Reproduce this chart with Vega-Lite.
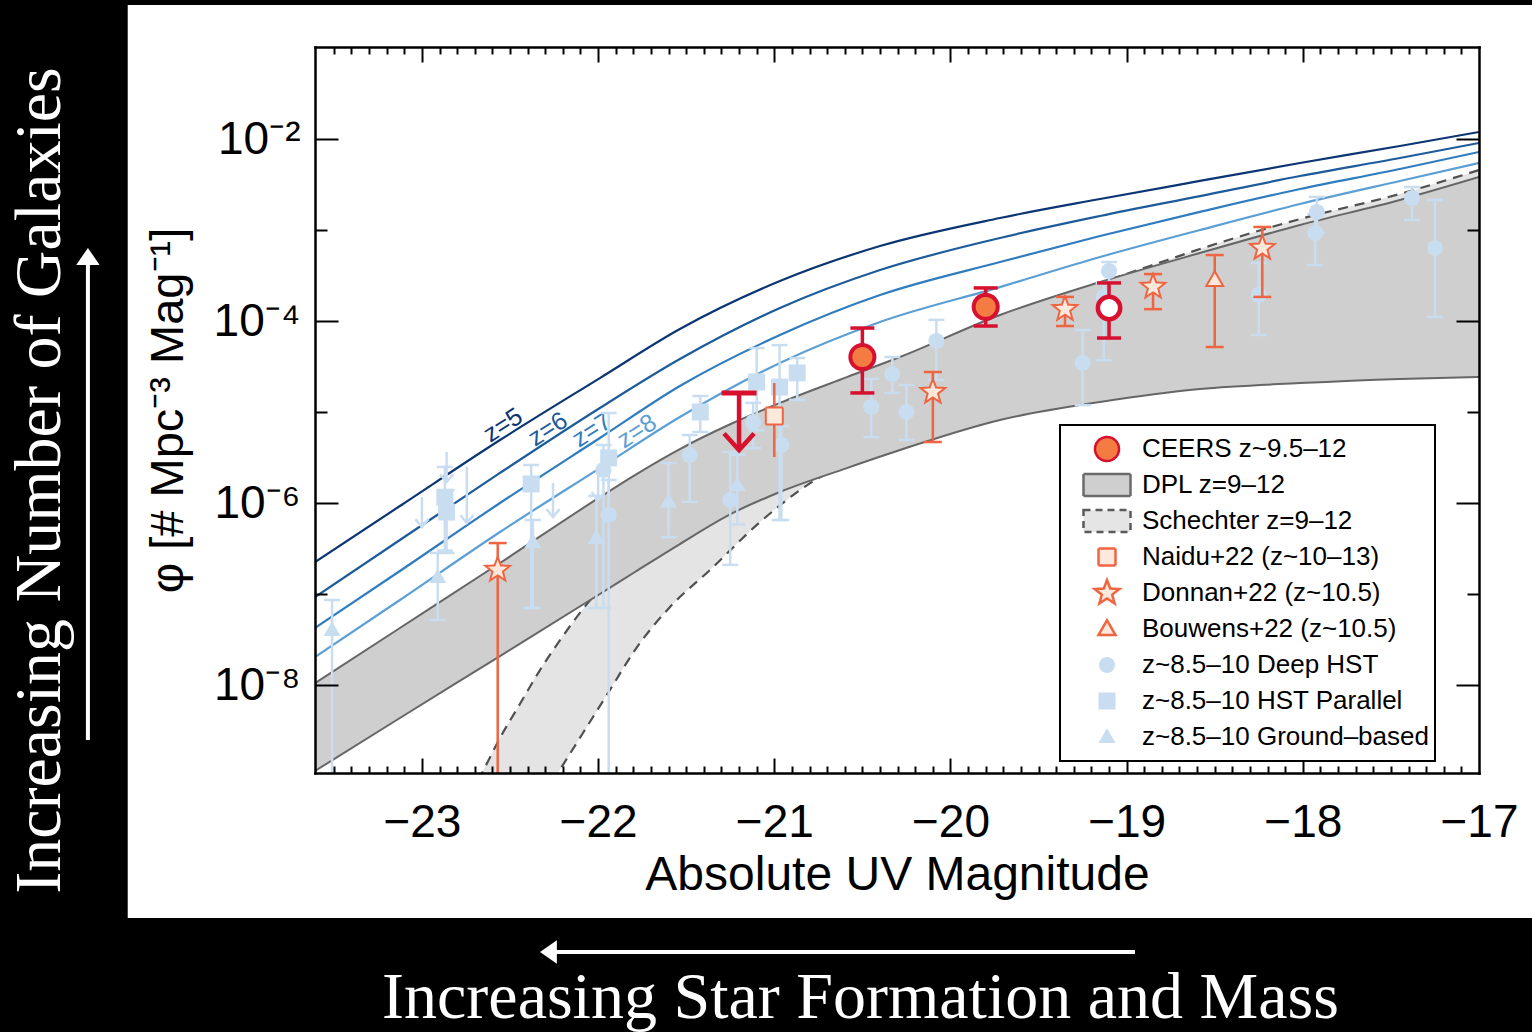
{
"$schema": "https://vega.github.io/schema/vega-lite/v6.json",
"width": 1164, "height": 726,
"autosize": {"type": "none"},
"padding": {"left": 315, "top": 47, "right": 53, "bottom": 259},
"background": "black",
"config": {"view": {"stroke": null}, "legend": {"strokeWidth": 2}},
"resolve": {"axis": {"x": "independent", "y": "independent"}},
"datasets": {
"curves": [
{"curve":"z=5","M":-23.607,"phi":2.247e-7},{"curve":"z=5","M":-23.125,"phi":9.27e-7},{"curve":"z=5","M":-22.557,"phi":4.92e-6},{"curve":"z=5","M":-21.99,"phi":2.36e-5},{"curve":"z=5","M":-21.536,"phi":8.17e-5},{"curve":"z=5","M":-20.968,"phi":2.75e-4},{"curve":"z=5","M":-20.4,"phi":6.67e-4},{"curve":"z=5","M":-19.719,"phi":1.355e-3},{"curve":"z=5","M":-19.151,"phi":2.19e-3},{"curve":"z=5","M":-18.584,"phi":3.46e-3},{"curve":"z=5","M":-18.016,"phi":5.45e-3},{"curve":"z=5","M":-17.449,"phi":8.38e-3},{"curve":"z=5","M":-17.0,"phi":1.194e-2},
{"curve":"z=6","M":-23.607,"phi":9.27e-8},{"curve":"z=6","M":-23.125,"phi":3.92e-7},{"curve":"z=6","M":-22.557,"phi":2.14e-6},{"curve":"z=6","M":-21.99,"phi":1.107e-5},{"curve":"z=6","M":-21.536,"phi":3.82e-5},{"curve":"z=6","M":-20.968,"phi":1.389e-4},{"curve":"z=6","M":-20.4,"phi":3.63e-4},{"curve":"z=6","M":-19.719,"phi":8.17e-4},{"curve":"z=6","M":-19.151,"phi":1.425e-3},{"curve":"z=6","M":-18.584,"phi":2.36e-3},{"curve":"z=6","M":-18.016,"phi":3.92e-3},{"curve":"z=6","M":-17.449,"phi":6.18e-3},{"curve":"z=6","M":-17.0,"phi":9.04e-3},
{"curve":"z=7","M":-23.607,"phi":4.23e-8},{"curve":"z=7","M":-23.125,"phi":1.79e-7},{"curve":"z=7","M":-22.557,"phi":1.0e-6},{"curve":"z=7","M":-21.99,"phi":5.18e-6},{"curve":"z=7","M":-21.536,"phi":1.93e-5},{"curve":"z=7","M":-20.968,"phi":7.02e-5},{"curve":"z=7","M":-20.4,"phi":1.93e-4},{"curve":"z=7","M":-19.719,"phi":4.45e-4},{"curve":"z=7","M":-19.151,"phi":8.59e-4},{"curve":"z=7","M":-18.584,"phi":1.58e-3},{"curve":"z=7","M":-18.016,"phi":2.82e-3},{"curve":"z=7","M":-17.449,"phi":4.68e-3},{"curve":"z=7","M":-17.0,"phi":7.2e-3},
{"curve":"z=8","M":-23.607,"phi":2.03e-8},{"curve":"z=8","M":-23.125,"phi":8.59e-8},{"curve":"z=8","M":-22.557,"phi":4.8e-7},{"curve":"z=8","M":-21.99,"phi":2.42e-6},{"curve":"z=8","M":-21.536,"phi":8.81e-6},{"curve":"z=8","M":-20.968,"phi":3.46e-5},{"curve":"z=8","M":-20.4,"phi":9.75e-5},{"curve":"z=8","M":-19.719,"phi":2.36e-4},{"curve":"z=8","M":-19.151,"phi":5.05e-4},{"curve":"z=8","M":-18.584,"phi":1.0e-3},{"curve":"z=8","M":-18.016,"phi":1.93e-3},{"curve":"z=8","M":-17.449,"phi":3.46e-3},{"curve":"z=8","M":-17.0,"phi":5.45e-3}
],
"zlab": [
{"curve":"z=5","M":-22.54,"phi":7.19e-6},{"curve":"z=6","M":-22.285,"phi":6.5e-6},{"curve":"z=7","M":-22.035,"phi":6.34e-6},{"curve":"z=8","M":-21.78,"phi":6.18e-6}
],
"dpl": [
{"M":-23.607,"lo":1.135e-9,"hi":1.05e-8},{"M":-23.125,"lo":4.34e-9,"hi":4.23e-8},{"M":-22.557,"lo":2.08e-8,"hi":2.19e-7},{"M":-21.99,"lo":1.0e-7,"hi":1.16e-6},{"M":-21.791,"lo":1.745e-7,"hi":2.03e-6},{"M":-21.536,"lo":3.54e-7,"hi":3.92e-6},{"M":-21.235,"lo":7.77e-7,"hi":7.57e-6},{"M":-20.968,"lo":1.32e-6,"hi":1.26e-5},{"M":-20.588,"lo":2.42e-6,"hi":2.42e-5},{"M":-20.287,"lo":3.82e-6,"hi":4.02e-5},{"M":-19.719,"lo":8.17e-6,"hi":1.164e-4},{"M":-19.151,"lo":1.29e-5,"hi":2.68e-4},{"M":-18.584,"lo":1.79e-5,"hi":5.59e-4},{"M":-18.016,"lo":2.08e-5,"hi":1.135e-3},{"M":-17.449,"lo":2.31e-5,"hi":2.14e-3},{"M":-17.0,"lo":2.42e-5,"hi":3.82e-3}
],
"sch": [
{"M":-22.728,"lo":2.03e-11,"hi":6.18e-10},{"M":-22.659,"lo":3.82e-11,"hi":1.08e-9},{"M":-22.557,"lo":9.27e-11,"hi":2.62e-9},{"M":-22.444,"lo":2.247e-10,"hi":6.18e-9},{"M":-22.33,"lo":5.18e-10,"hi":1.46e-8},{"M":-22.228,"lo":1.08e-9,"hi":2.89e-8},{"M":-22.086,"lo":2.97e-9,"hi":6.84e-8},{"M":-21.933,"lo":8.81e-9,"hi":1.5e-7},{"M":-21.791,"lo":2.42e-8,"hi":2.82e-7},{"M":-21.592,"lo":7.2e-8,"hi":7.38e-7},{"M":-21.365,"lo":1.835e-7,"hi":1.79e-6},{"M":-21.081,"lo":6.18e-7,"hi":4.34e-6},{"M":-20.854,"lo":1.389e-6,"hi":8.59e-6},{"M":-20.287,"lo":4.92e-6,"hi":3.54e-5},{"M":-19.719,"lo":1.355e-5,"hi":1.079e-4},{"M":-19.151,"lo":3.285e-5,"hi":2.62e-4},{"M":-18.868,"lo":4.8e-5,"hi":4.02e-4},{"M":-18.584,"lo":7.02e-5,"hi":6.18e-4},{"M":-18.016,"lo":1.499e-4,"hi":1.32e-3},{"M":-17.449,"lo":2.968e-4,"hi":2.49e-3},{"M":-17.0,"lo":5.31e-4,"hi":4.56e-3}
],
"pts": [
{"series":"z~8.5–10 Deep HST","M":-21.48,"phi":3.36e-6,"lo":1.03e-6,"hi":5.58e-6},
{"series":"z~8.5–10 Deep HST","M":-21.25,"phi":1.08e-6,"lo":2.09e-7,"hi":3.63e-6},
{"series":"z~8.5–10 Deep HST","M":-21.12,"phi":7.76e-6,"lo":4.02e-6,"hi":1.26e-5},
{"series":"z~8.5–10 Deep HST","M":-20.96,"phi":4.34e-6,"lo":6.5e-7,"hi":7.0e-6},
{"series":"z~8.5–10 Deep HST","M":-20.45,"phi":1.14e-5,"lo":5.31e-6,"hi":2.31e-5},
{"series":"z~8.5–10 Deep HST","M":-20.33,"phi":2.62e-5,"lo":1.62e-5,"hi":4.02e-5},
{"series":"z~8.5–10 Deep HST","M":-20.25,"phi":1.0e-5,"lo":4.92e-6,"hi":1.98e-5},
{"series":"z~8.5–10 Deep HST","M":-20.08,"phi":6.03e-5,"lo":2.25e-5,"hi":1.03e-4},
{"series":"z~8.5–10 Deep HST","M":-19.25,"phi":3.45e-5,"lo":1.19e-5,"hi":7.96e-5},
{"series":"z~8.5–10 Deep HST","M":-19.10,"phi":3.54e-4,"lo":2.62e-4,"hi":4.45e-4},
{"series":"z~8.5–10 Deep HST","M":-19.13,"phi":1.84e-4,"lo":3.72e-5,"hi":2.62e-4},
{"series":"z~8.5–10 Deep HST","M":-18.25,"phi":1.93e-4,"lo":7.02e-5,"hi":4.34e-4},
{"series":"z~8.5–10 Deep HST","M":-17.92,"phi":1.58e-3,"lo":9.3e-4,"hi":2.31e-3},
{"series":"z~8.5–10 Deep HST","M":-17.93,"phi":9.27e-4,"lo":4.12e-4,"hi":1.5e-3},
{"series":"z~8.5–10 Deep HST","M":-17.38,"phi":2.25e-3,"lo":1.29e-3,"hi":2.97e-3},
{"series":"z~8.5–10 Deep HST","M":-17.25,"phi":6.34e-4,"lo":1.11e-4,"hi":2.14e-3},
{"series":"z~8.5–10 Deep HST","M":-21.97,"phi":2.31e-6,"lo":7.02e-8,"hi":4.34e-6},
{"series":"z~8.5–10 Deep HST","M":-21.94,"phi":7.38e-7,"lo":1e-10,"hi":1.79e-6},
{"series":"z~8.5–10 HST Parallel","M":-21.42,"phi":1.0e-5,"lo":6.03e-6,"hi":1.5e-5},
{"series":"z~8.5–10 HST Parallel","M":-21.10,"phi":2.14e-5,"lo":6.3e-6,"hi":5.05e-5},
{"series":"z~8.5–10 HST Parallel","M":-20.97,"phi":1.88e-5,"lo":6.5e-7,"hi":5.44e-5},
{"series":"z~8.5–10 HST Parallel","M":-20.87,"phi":2.69e-5,"lo":1.36e-5,"hi":3.92e-5},
{"series":"z~8.5–10 HST Parallel","M":-22.87,"phi":1.16e-6,"lo":3.0e-7,"hi":2.49e-6},
{"series":"z~8.5–10 HST Parallel","M":-22.86,"phi":7.96e-7,"lo":2.83e-7,"hi":1.38e-6},
{"series":"z~8.5–10 HST Parallel","M":-22.38,"phi":1.62e-6,"lo":7.02e-8,"hi":2.62e-6},
{"series":"z~8.5–10 HST Parallel","M":-21.94,"phi":3.13e-6,"lo":7.4e-7,"hi":9.75e-6},
{"series":"z~8.5–10 Ground–based","M":-23.51,"phi":4.02e-8,"lo":1e-10,"hi":8.59e-8},
{"series":"z~8.5–10 Ground–based","M":-22.91,"phi":1.54e-7,"lo":5.18e-8,"hi":2.83e-7},
{"series":"z~8.5–10 Ground–based","M":-22.37,"phi":3.72e-7,"lo":7.02e-8,"hi":6.5e-7},
{"series":"z~8.5–10 Ground–based","M":-22.01,"phi":4.12e-7,"lo":7.02e-8,"hi":1.2e-6},
{"series":"z~8.5–10 Ground–based","M":-21.60,"phi":1.03e-6,"lo":4.22e-7,"hi":2.75e-6},
{"series":"z~8.5–10 Ground–based","M":-21.21,"phi":1.58e-6,"lo":5.8e-7,"hi":3.4e-6},
{"series":"Naidu+22 (z~10–13)","M":-21.0,"phi":9.04e-6,"lo":3.2e-6,"hi":2.08e-5},
{"series":"Donnan+22 (z~10.5)","M":-22.57,"phi":1.84e-7,"lo":1e-10,"hi":3.63e-7},
{"series":"Donnan+22 (z~10.5)","M":-20.1,"phi":1.66e-5,"lo":4.68e-6,"hi":2.75e-5},
{"series":"Donnan+22 (z~10.5)","M":-19.35,"phi":1.35e-4,"lo":8.81e-5,"hi":1.84e-4},
{"series":"Donnan+22 (z~10.5)","M":-18.85,"phi":2.37e-4,"lo":1.35e-4,"hi":3.28e-4},
{"series":"Donnan+22 (z~10.5)","M":-18.23,"phi":6.34e-4,"lo":1.84e-4,"hi":1.08e-3},
{"series":"Bouwens+22 (z~10.5)","M":-18.5,"phi":2.82e-4,"lo":5.18e-5,"hi":5.31e-4},
{"series":"CEERS z~9.5–12","M":-20.5,"phi":4.02e-5,"lo":1.62e-5,"hi":8.37e-5},
{"series":"CEERS z~9.5–12","M":-19.8,"phi":1.43e-4,"lo":8.81e-5,"hi":2.31e-4},
{"series":"CEERS z~9.5–12","M":-19.1,"phi":1.39e-4,"lo":6.5e-5,"hi":2.62e-4,"tentative":true}
],
"ul": [
{"series":"CEERS z~9.5–12","M":-21.2,"top":1.62e-5,"tip":3.82e-6},
{"series":"z~8.5–10 Deep HST","M":-23.0,"top":1.16e-6,"tip":5.45e-7},
{"series":"z~8.5–10 Deep HST","M":-22.86,"top":3.63e-6,"tip":1.7e-6},
{"series":"z~8.5–10 Deep HST","M":-22.745,"top":2.49e-6,"tip":6.03e-7},
{"series":"z~8.5–10 Deep HST","M":-22.256,"top":1.66e-6,"tip":7.02e-7},
{"series":"z~8.5–10 Deep HST","M":-22.0,"top":2.42e-6,"tip":1.08e-6}
]
},
"layer": [
{"data": {"values": [{}]}, "mark": {"type": "rect", "color": "white"},
 "encoding": {"x": {"datum": -24.67, "axis": null}, "x2": {"datum": -16.3}, "y": {"datum": 0.297, "axis": null}, "y2": {"datum": 2.75e-11}}},
{"data": {"name": "sch"}, "mark": {"type": "area", "color": "#e4e4e4", "opacity": 1, "clip": true, "interpolate": "monotone"},
 "encoding": {"x": {"field": "M", "type": "quantitative", "axis": null}, "y": {"field": "hi", "type": "quantitative", "axis": null}, "y2": {"field": "lo"}}},
{"data": {"name": "sch"}, "mark": {"type": "line", "color": "#505050", "strokeWidth": 2.2, "strokeDash": [10, 7], "clip": true, "interpolate": "monotone"},
 "encoding": {"x": {"field": "M", "type": "quantitative", "axis": null}, "y": {"field": "hi", "type": "quantitative", "axis": null}}},
{"data": {"name": "sch"}, "mark": {"type": "line", "color": "#505050", "strokeWidth": 2.2, "strokeDash": [10, 7], "clip": true, "interpolate": "monotone"},
 "encoding": {"x": {"field": "M", "type": "quantitative", "axis": null}, "y": {"field": "lo", "type": "quantitative", "axis": null}}},
{"data": {"name": "dpl"}, "mark": {"type": "area", "color": "#cfcfcf", "opacity": 1, "clip": true, "interpolate": "monotone"},
 "encoding": {
  "x": {"field": "M", "type": "quantitative", "scale": {"domain": [-23.607, -17.0], "nice": false, "zero": false},
   "axis": {"orient": "bottom", "values": [-23, -22, -21, -20, -19, -18, -17], "labelExpr": "'−' + abs(datum.value)", "ticks": false, "domain": false, "grid": false, "labelFont": "Liberation Sans", "labelFontSize": 46, "labelColor": "black", "labelBaseline": "alphabetic", "labelPadding": 63, "labelFlush": false, "labelOverlap": false, "labelBound": false, "title": "Absolute UV Magnitude", "titleFont": "Liberation Sans", "titleFontSize": 48, "titleFontWeight": "normal", "titleColor": "black", "titleX": 582, "titleY": 116, "titleBaseline": "alphabetic", "titleAlign": "center", "zindex": 1}},
  "y": {"field": "hi", "type": "quantitative", "scale": {"type": "log", "domain": [1.079e-9, 0.1026], "nice": false},
   "axis": {"orient": "left", "values": [1e-8, 1e-6, 1e-4, 1e-2], "labelExpr": "datum.value > 0.005 ? '10⁻²' : datum.value > 5e-5 ? '10⁻⁴' : datum.value > 5e-7 ? '10⁻⁶' : '10⁻⁸'", "ticks": false, "domain": false, "grid": false, "labelFont": "Liberation Sans", "labelFontSize": 46, "labelColor": "black", "labelPadding": 15, "labelBaseline": "middle", "labelFlush": false, "labelOverlap": false, "title": "φ [# Mpc⁻³ Mag⁻¹]", "titleFont": "Liberation Sans", "titleFontSize": 47, "titleFontWeight": "normal", "titleColor": "black", "titleX": -133, "titleY": 363, "titleAngle": 270, "titleBaseline": "alphabetic", "titleAlign": "center", "zindex": 1}},
  "y2": {"field": "lo"}}},
{"data": {"name": "dpl"}, "mark": {"type": "line", "color": "#666666", "strokeWidth": 2, "clip": true, "interpolate": "monotone"},
 "encoding": {
  "x": {"field": "M", "type": "quantitative",
   "axis": {"orient": "bottom", "values": [-23.5,-23.4,-23.3,-23.2,-23.1,-23,-22.9,-22.8,-22.7,-22.6,-22.5,-22.4,-22.3,-22.2,-22.1,-22,-21.9,-21.8,-21.7,-21.6,-21.5,-21.4,-21.3,-21.2,-21.1,-21,-20.9,-20.8,-20.7,-20.6,-20.5,-20.4,-20.3,-20.2,-20.1,-20,-19.9,-19.8,-19.7,-19.6,-19.5,-19.4,-19.3,-19.2,-19.1,-19,-18.9,-18.8,-18.7,-18.6,-18.5,-18.4,-18.3,-18.2,-18.1,-18,-17.9,-17.8,-17.7,-17.6,-17.5,-17.4,-17.3,-17.2,-17.1], "labels": false, "grid": false, "domain": true, "domainColor": "black", "domainWidth": 2.5, "domainCap": "square", "tickColor": "black", "tickWidth": 2, "tickSize": {"condition": {"test": "abs(datum.value - round(datum.value)) < 0.01", "value": -15}, "value": -7}, "title": "Increasing Star Formation and Mass", "titleFont": "Liberation Serif", "titleFontSize": 66, "titleFontWeight": "normal", "titleColor": "white", "titleX": 545, "titleY": 244, "titleBaseline": "alphabetic", "titleAlign": "center", "zindex": 1}},
  "y": {"field": "hi", "type": "quantitative",
   "axis": {"orient": "left", "values": [1e-8, 1e-7, 1e-6, 1e-5, 1e-4, 1e-3, 1e-2], "labels": false, "grid": false, "domain": true, "domainColor": "black", "domainWidth": 2.5, "domainCap": "square", "tickColor": "black", "tickWidth": 2, "tickSize": {"condition": {"test": "round(log(datum.value)/LN10) % 2 == 0", "value": -23}, "value": -12}, "title": "Increasing Number of Galaxies", "titleFont": "Liberation Serif", "titleFontSize": 66, "titleFontWeight": "normal", "titleColor": "white", "titleX": -256, "titleY": 433, "titleAngle": 270, "titleBaseline": "alphabetic", "titleAlign": "center", "zindex": 1}}}},
{"data": {"name": "dpl"}, "mark": {"type": "line", "color": "#666666", "strokeWidth": 2, "clip": true, "interpolate": "monotone"},
 "encoding": {
  "x": {"field": "M", "type": "quantitative",
   "axis": {"orient": "top", "values": [-23.5,-23.4,-23.3,-23.2,-23.1,-23,-22.9,-22.8,-22.7,-22.6,-22.5,-22.4,-22.3,-22.2,-22.1,-22,-21.9,-21.8,-21.7,-21.6,-21.5,-21.4,-21.3,-21.2,-21.1,-21,-20.9,-20.8,-20.7,-20.6,-20.5,-20.4,-20.3,-20.2,-20.1,-20,-19.9,-19.8,-19.7,-19.6,-19.5,-19.4,-19.3,-19.2,-19.1,-19,-18.9,-18.8,-18.7,-18.6,-18.5,-18.4,-18.3,-18.2,-18.1,-18,-17.9,-17.8,-17.7,-17.6,-17.5,-17.4,-17.3,-17.2,-17.1], "labels": false, "grid": false, "domain": true, "domainColor": "black", "domainWidth": 2.5, "domainCap": "square", "tickColor": "black", "tickWidth": 2, "tickSize": {"condition": {"test": "abs(datum.value - round(datum.value)) < 0.01", "value": -15}, "value": -7}, "title": null, "zindex": 1}},
  "y": {"field": "lo", "type": "quantitative",
   "axis": {"orient": "right", "values": [1e-8, 1e-7, 1e-6, 1e-5, 1e-4, 1e-3, 1e-2], "labels": false, "grid": false, "domain": true, "domainColor": "black", "domainWidth": 2.5, "domainCap": "square", "tickColor": "black", "tickWidth": 2, "tickSize": {"condition": {"test": "round(log(datum.value)/LN10) % 2 == 0", "value": -23}, "value": -12}, "title": null, "zindex": 1}}}},
{"data": {"name": "curves"}, "mark": {"type": "line", "strokeWidth": 2.2, "clip": true, "interpolate": "monotone"},
 "encoding": {"x": {"field": "M", "type": "quantitative", "axis": null}, "y": {"field": "phi", "type": "quantitative", "axis": null},
  "color": {"field": "curve", "type": "nominal", "scale": {"domain": ["z=5", "z=6", "z=7", "z=8"], "range": ["#0b3573", "#1d5b9b", "#2f7cbe", "#5c9fd4"]}, "legend": null}}},
{"data": {"name": "zlab"}, "mark": {"type": "text", "angle": 327, "font": "Liberation Sans", "fontSize": 25, "align": "center", "baseline": "middle"},
 "encoding": {"x": {"field": "M", "type": "quantitative", "axis": null}, "y": {"field": "phi", "type": "quantitative", "axis": null}, "text": {"field": "curve"},
  "color": {"field": "curve", "type": "nominal", "legend": null}}},
{"data": {"name": "ul"}, "transform": [{"filter": {"field": "series", "oneOf": ["z~8.5–10 Deep HST"]}}], "mark": {"type": "rule", "color": "#c9ddf0", "strokeWidth": 2.5},
 "encoding": {"x": {"field": "M", "type": "quantitative", "axis": null}, "y": {"field": "top", "type": "quantitative", "axis": null}, "y2": {"field": "tip"}}},
{"data": {"name": "ul"}, "transform": [{"filter": {"field": "series", "oneOf": ["z~8.5–10 Deep HST"]}}], "mark": {"type": "point", "shape": "M-1,-1.2L0,0L1,-1.2", "filled": false, "size": 170, "strokeWidth": 2.5, "color": "#c9ddf0", "opacity": 1},
 "encoding": {"x": {"field": "M", "type": "quantitative", "axis": null}, "y": {"field": "tip", "type": "quantitative", "axis": null}}},
{"data": {"name": "pts"}, "transform": [{"filter": {"field": "series", "oneOf": ["z~8.5–10 Deep HST", "z~8.5–10 HST Parallel", "z~8.5–10 Ground–based"]}}], "mark": {"type": "rule", "color": "#c9ddf0", "strokeWidth": 2.5, "clip": true},
 "encoding": {"x": {"field": "M", "type": "quantitative", "axis": null}, "y": {"field": "lo", "type": "quantitative", "axis": null}, "y2": {"field": "hi"}}},
{"data": {"name": "pts"}, "transform": [{"filter": {"field": "series", "oneOf": ["z~8.5–10 Deep HST", "z~8.5–10 HST Parallel", "z~8.5–10 Ground–based"]}}], "mark": {"type": "tick", "orient": "horizontal", "color": "#c9ddf0", "size": 16, "thickness": 2.5, "opacity": 1, "clip": true},
 "encoding": {"x": {"field": "M", "type": "quantitative", "axis": null}, "y": {"field": "hi", "type": "quantitative", "axis": null}}},
{"data": {"name": "pts"}, "transform": [{"filter": {"field": "series", "oneOf": ["z~8.5–10 Deep HST", "z~8.5–10 HST Parallel", "z~8.5–10 Ground–based"]}}], "mark": {"type": "tick", "orient": "horizontal", "color": "#c9ddf0", "size": 16, "thickness": 2.5, "opacity": 1, "clip": true},
 "encoding": {"x": {"field": "M", "type": "quantitative", "axis": null}, "y": {"field": "lo", "type": "quantitative", "axis": null}}},
{"data": {"name": "pts"}, "transform": [{"filter": {"field": "series", "oneOf": ["z~8.5–10 Deep HST", "z~8.5–10 HST Parallel", "z~8.5–10 Ground–based"]}}], "mark": {"type": "point", "filled": true, "opacity": 1, "size": 100, "strokeWidth": 0},
 "encoding": {"x": {"field": "M", "type": "quantitative", "axis": null}, "y": {"field": "phi", "type": "quantitative", "axis": null},
  "shape": {"field": "series", "type": "nominal",
   "scale": {"domain": ["CEERS z~9.5–12", "DPL z=9–12", "Schechter z=9–12", "Naidu+22 (z~10–13)", "Donnan+22 (z~10.5)", "Bouwens+22 (z~10.5)", "z~8.5–10 Deep HST", "z~8.5–10 HST Parallel", "z~8.5–10 Ground–based"],
    "range": ["M2.4,0A2.4,2.4,0,1,1,-2.4,0A2.4,2.4,0,1,1,2.4,0Z", "M-4.7,-2.2H4.7V2.2H-4.7Z", "M-4.7,-2.2H4.7V2.2H-4.7Z", "M-1.7,-1.7H1.7V1.7H-1.7Z", "M0,-2.6L0.642,-0.884L2.473,-0.803L1.039,0.338L1.529,2.103L0,1.092L-1.529,2.103L-1.039,0.338L-2.473,-0.803L-0.642,-0.884Z", "M0,-1.75L1.7,1.2L-1.7,1.2Z", "M1.6,0A1.6,1.6,0,1,1,-1.6,0A1.6,1.6,0,1,1,1.6,0Z", "M-1.7,-1.7H1.7V1.7H-1.7Z", "M0,-1.75L1.7,1.2L-1.7,1.2Z"]},
   "legend": {"orient": "none", "legendX": 745, "legendY": 378, "title": null, "padding": 6, "strokeColor": "black", "fillColor": "white", "labelFont": "Liberation Sans", "labelFontSize": 26, "labelColor": "black", "labelLimit": 500, "clipHeight": 36, "rowPadding": 0, "symbolSize": 100, "symbolStrokeWidth": 2.5, "symbolOffset": 28, "labelOffset": 22, "cornerRadius": 0, "zindex": 2}},
  "fill": {"field": "series", "type": "nominal",
   "scale": {"domain": ["CEERS z~9.5–12", "DPL z=9–12", "Schechter z=9–12", "Naidu+22 (z~10–13)", "Donnan+22 (z~10.5)", "Bouwens+22 (z~10.5)", "z~8.5–10 Deep HST", "z~8.5–10 HST Parallel", "z~8.5–10 Ground–based"],
    "range": ["#f47c42", "#cfcfcf", "#e5e5e5", "#fde8dc", "#fde8dc", "#fde8dc", "#c9ddf0", "#c9ddf0", "#c9ddf0"]}},
  "stroke": {"field": "series", "type": "nominal",
   "scale": {"domain": ["CEERS z~9.5–12", "DPL z=9–12", "Schechter z=9–12", "Naidu+22 (z~10–13)", "Donnan+22 (z~10.5)", "Bouwens+22 (z~10.5)", "z~8.5–10 Deep HST", "z~8.5–10 HST Parallel", "z~8.5–10 Ground–based"],
    "range": ["#d7102f", "#6b6b6b", "#5a5a5a", "#ef6441", "#ef6441", "#ef6441", "transparent", "transparent", "transparent"]}},
  "strokeDash": {"field": "series", "type": "nominal",
   "scale": {"domain": ["CEERS z~9.5–12", "DPL z=9–12", "Schechter z=9–12", "Naidu+22 (z~10–13)", "Donnan+22 (z~10.5)", "Bouwens+22 (z~10.5)", "z~8.5–10 Deep HST", "z~8.5–10 HST Parallel", "z~8.5–10 Ground–based"],
    "range": [[1, 0], [1, 0], [7, 5], [1, 0], [1, 0], [1, 0], [1, 0], [1, 0], [1, 0]]}}}},
{"data": {"name": "pts"}, "transform": [{"filter": {"field": "series", "oneOf": ["Naidu+22 (z~10–13)", "Donnan+22 (z~10.5)", "Bouwens+22 (z~10.5)"]}}], "mark": {"type": "rule", "color": "#ef6441", "strokeWidth": 2.5, "clip": true},
 "encoding": {"x": {"field": "M", "type": "quantitative", "axis": null}, "y": {"field": "lo", "type": "quantitative", "axis": null}, "y2": {"field": "hi"}}},
{"data": {"name": "pts"}, "transform": [{"filter": {"field": "series", "oneOf": ["Donnan+22 (z~10.5)", "Bouwens+22 (z~10.5)"]}}], "mark": {"type": "tick", "orient": "horizontal", "color": "#ef6441", "size": 18, "thickness": 2.5, "opacity": 1, "clip": true},
 "encoding": {"x": {"field": "M", "type": "quantitative", "axis": null}, "y": {"field": "hi", "type": "quantitative", "axis": null}}},
{"data": {"name": "pts"}, "transform": [{"filter": {"field": "series", "oneOf": ["Donnan+22 (z~10.5)", "Bouwens+22 (z~10.5)"]}}], "mark": {"type": "tick", "orient": "horizontal", "color": "#ef6441", "size": 18, "thickness": 2.5, "opacity": 1, "clip": true},
 "encoding": {"x": {"field": "M", "type": "quantitative", "axis": null}, "y": {"field": "lo", "type": "quantitative", "axis": null}}},
{"data": {"name": "pts"}, "transform": [{"filter": {"field": "series", "oneOf": ["Naidu+22 (z~10–13)", "Donnan+22 (z~10.5)", "Bouwens+22 (z~10.5)"]}}], "mark": {"type": "point", "filled": true, "opacity": 1, "size": 100, "strokeWidth": 2},
 "encoding": {"x": {"field": "M", "type": "quantitative", "axis": null}, "y": {"field": "phi", "type": "quantitative", "axis": null},
  "shape": {"field": "series", "type": "nominal"}, "fill": {"field": "series", "type": "nominal"}, "stroke": {"field": "series", "type": "nominal"}, "strokeDash": {"field": "series", "type": "nominal"}}},
{"data": {"name": "pts"}, "transform": [{"filter": {"field": "series", "oneOf": ["CEERS z~9.5–12"]}}], "mark": {"type": "rule", "color": "#d7102f", "strokeWidth": 3.5, "clip": true},
 "encoding": {"x": {"field": "M", "type": "quantitative", "axis": null}, "y": {"field": "lo", "type": "quantitative", "axis": null}, "y2": {"field": "hi"}}},
{"data": {"name": "pts"}, "transform": [{"filter": {"field": "series", "oneOf": ["CEERS z~9.5–12"]}}], "mark": {"type": "tick", "orient": "horizontal", "color": "#d7102f", "size": 24, "thickness": 3.5, "opacity": 1, "clip": true},
 "encoding": {"x": {"field": "M", "type": "quantitative", "axis": null}, "y": {"field": "hi", "type": "quantitative", "axis": null}}},
{"data": {"name": "pts"}, "transform": [{"filter": {"field": "series", "oneOf": ["CEERS z~9.5–12"]}}], "mark": {"type": "tick", "orient": "horizontal", "color": "#d7102f", "size": 24, "thickness": 3.5, "opacity": 1, "clip": true},
 "encoding": {"x": {"field": "M", "type": "quantitative", "axis": null}, "y": {"field": "lo", "type": "quantitative", "axis": null}}},
{"data": {"name": "pts"}, "transform": [{"filter": {"field": "series", "oneOf": ["CEERS z~9.5–12"]}}, {"filter": "!datum.tentative"}], "mark": {"type": "point", "filled": true, "opacity": 1, "size": 100, "strokeWidth": 4},
 "encoding": {"x": {"field": "M", "type": "quantitative", "axis": null}, "y": {"field": "phi", "type": "quantitative", "axis": null},
  "shape": {"field": "series", "type": "nominal"}, "fill": {"field": "series", "type": "nominal"}, "stroke": {"field": "series", "type": "nominal"}, "strokeDash": {"field": "series", "type": "nominal"}}},
{"data": {"name": "pts"}, "transform": [{"filter": "datum.tentative"}], "mark": {"type": "point", "shape": "circle", "filled": true, "fill": "white", "stroke": "#d7102f", "strokeWidth": 4.5, "size": 500, "opacity": 1},
 "encoding": {"x": {"field": "M", "type": "quantitative", "axis": null}, "y": {"field": "phi", "type": "quantitative", "axis": null}}},
{"data": {"name": "ul"}, "transform": [{"filter": {"field": "series", "oneOf": ["CEERS z~9.5–12"]}}], "mark": {"type": "rule", "color": "#d7102f", "strokeWidth": 4.5},
 "encoding": {"x": {"field": "M", "type": "quantitative", "axis": null}, "y": {"field": "top", "type": "quantitative", "axis": null}, "y2": {"field": "tip"}}},
{"data": {"name": "ul"}, "transform": [{"filter": {"field": "series", "oneOf": ["CEERS z~9.5–12"]}}], "mark": {"type": "tick", "orient": "horizontal", "color": "#d7102f", "size": 35, "thickness": 5, "opacity": 1},
 "encoding": {"x": {"field": "M", "type": "quantitative", "axis": null}, "y": {"field": "top", "type": "quantitative", "axis": null}}},
{"data": {"name": "ul"}, "transform": [{"filter": {"field": "series", "oneOf": ["CEERS z~9.5–12"]}}], "mark": {"type": "point", "shape": "M-1,-1.1L0,0L1,-1.1", "filled": false, "size": 900, "strokeWidth": 4.5, "color": "#d7102f", "opacity": 1},
 "encoding": {"x": {"field": "M", "type": "quantitative", "axis": null}, "y": {"field": "tip", "type": "quantitative", "axis": null}}},
{"data": {"values": [{}]}, "mark": {"type": "rule", "color": "white", "strokeWidth": 4},
 "encoding": {"x": {"datum": -24.896, "axis": null}, "y": {"datum": 2.49e-9, "axis": null}, "y2": {"datum": 4.45e-4}}},
{"data": {"values": [{}]}, "mark": {"type": "point", "shape": "M0,0L0.9,1.3L-0.9,1.3Z", "filled": true, "color": "white", "size": 676, "opacity": 1, "strokeWidth": 0},
 "encoding": {"x": {"datum": -24.896, "axis": null}, "y": {"datum": 6.34e-4, "axis": null}}},
{"data": {"values": [{}]}, "mark": {"type": "rule", "color": "white", "strokeWidth": 4},
 "encoding": {"x": {"datum": -22.245, "axis": null}, "x2": {"datum": -18.953}, "y": {"datum": 1.164e-11, "axis": null}}},
{"data": {"values": [{}]}, "mark": {"type": "point", "shape": "M0,0L1.3,-0.9L1.3,0.9Z", "filled": true, "color": "white", "size": 676, "opacity": 1, "strokeWidth": 0},
 "encoding": {"x": {"datum": -22.33, "axis": null}, "y": {"datum": 1.164e-11, "axis": null}}}
]
}
